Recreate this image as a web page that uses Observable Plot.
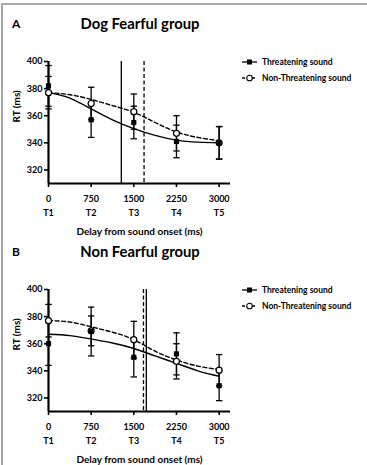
<!DOCTYPE html>
<html>
<head>
<meta charset="utf-8">
<script src="https://cdn.jsdelivr.net/npm/d3@7"></script>
<script src="https://cdn.jsdelivr.net/npm/@observablehq/plot@0.6"></script>
<style>
  body { margin: 0; background: #fff; font-family: Lato, "Open Sans", sans-serif; color: #000; }
  #page { position: relative; width: 367px; height: 465px; overflow: hidden; background: #fff; }
  #frame { position: absolute; left: 1px; top: 3px; width: 400px; height: 500px;
           border-left: 2px solid #a8a8a8; border-top: 2px solid #a8a8a8; }
  .letter { position: absolute; left: 12px; font-weight: bold; font-size: 12px; line-height: 12px; }
  .title { position: absolute; left: 0; width: 280px; text-align: center; font-weight: bold;
           font-size: 14.8px; line-height: 15px; }
  .plot { position: absolute; left: 0; }
  .legend { position: absolute; left: 242px; font-weight: bold; font-size: 8.5px; }
  .legend div { display: flex; align-items: center; height: 16px; white-space: nowrap; }
  .legend svg { margin-right: 5px; }
</style>
</head>
<body>
<div id="page">
  <div id="frame"></div>
</div>
<script>
// Shared axis values
const delays = [0, 750, 1500, 2250, 3000];
const timeLabels = ["T1", "T2", "T3", "T4", "T5"];
const yTicks = [320, 340, 360, 380, 400];
const series = ["Threatening sound", "Non-Threatening sound"];
const xTitle = "Delay from sound onset (ms)";
const yTitle = "RT (ms)";

// Delays at which the fitted curves are listed
const fitDelays = [0, 375, 750, 1125, 1500, 1875, 2250, 2625, 3000];

// A — Dog Fearful group
const fearfulThreat = [382, 357, 355, 341, 340];
const fearfulThreatErr = [15, 13, 12, 12, 12];
const fearfulNonThreat = [377, 369, 363, 347, 340];
const fearfulNonThreatErr = [12, 12, 13, 13, 12];
const fearfulFitThreat = [377, 373, 365, 357, 350.5, 345.5, 342, 340.5, 340];
const fearfulFitNonThreat = [377, 375.5, 372, 367.5, 362.5, 355, 348, 344, 341.5];
const fearfulMidpoints = [1280, 1680]; // threatening (solid), non-threatening (dashed)

// B — Non Fearful group
const nonFearfulThreat = [360, 369, 350, 352.5, 329];
const nonFearfulThreatErr = [16, 18, 14.5, 15.5, 11];
const nonFearfulNonThreat = [377, 369.5, 363, 347, 340.5];
const nonFearfulNonThreatErr = [12, 11, 13.5, 13, 11.5];
const nonFearfulFitThreat = [367, 366, 363.5, 360.5, 356.5, 351, 345.5, 340, 336];
const nonFearfulFitNonThreat = [377, 376, 372.5, 368.5, 363, 354.5, 348, 343.5, 341];
const nonFearfulMidpoints = [1720, 1670];

// Horizontal cap used for the error bars
const capSymbol = {
  draw(context, size) {
    const w = Math.sqrt(size / Math.PI);
    context.moveTo(-w, 0);
    context.lineTo(w, 0);
  }
};

function groupPlot(threat, threatErr, nonThreat, nonThreatErr, fitT, fitN, mids) {
  const pts = [];
  delays.forEach((d, i) => {
    pts.push({delay: d, rt: threat[i], err: threatErr[i], series: series[0]});
    pts.push({delay: d, rt: nonThreat[i], err: nonThreatErr[i], series: series[1]});
  });
  const caps = pts.flatMap(p => [{delay: p.delay, rt: p.rt + p.err}, {delay: p.delay, rt: p.rt - p.err}]);
  const fitSolid = fitDelays.map((d, i) => ({delay: d, rt: fitT[i]}));
  const fitDashed = fitDelays.map((d, i) => ({delay: d, rt: fitN[i]}));
  const threatPts = pts.filter(p => p.series === series[0]);
  const nonThreatPts = pts.filter(p => p.series === series[1]);

  return Plot.plot({
    width: 240,
    height: 197,
    marginLeft: 48,
    marginRight: 10,
    marginTop: 21,
    marginBottom: 54,
    style: "font-family: Lato, sans-serif; font-weight: bold; font-size: 9px; color: #000; background: transparent; overflow: visible;",
    x: {domain: [0, 3200]},
    y: {domain: [310, 400]},
    marks: [
      Plot.axisY({ticks: yTicks, tickSize: 4, tickPadding: 2, strokeWidth: 1.6, label: null}),
      // delay value with the time-point name on a second line
      Plot.axisX({ticks: delays, tickSize: 4, tickPadding: 4, strokeWidth: 1.6, lineHeight: 1.6,
                  tickFormat: d => `${d}\n${timeLabels[delays.indexOf(d)]}`, label: null}),
      Plot.text([xTitle], {frameAnchor: "bottom", lineAnchor: "top", dy: 44, fontSize: 10, fontWeight: "bold"}),
      Plot.text([yTitle], {frameAnchor: "left", rotate: -90, dx: -32, fontSize: 10, fontWeight: "bold"}),
      // error bars
      Plot.ruleX(pts, {x: "delay", y1: d => d.rt - d.err, y2: d => d.rt + d.err, strokeWidth: 1.3}),
      Plot.dot(caps, {x: "delay", y: "rt", symbol: capSymbol, r: 3.2, stroke: "#000", strokeWidth: 1.3}),
      // fitted curves
      Plot.line(fitSolid, {x: "delay", y: "rt", curve: "natural", strokeWidth: 1.4}),
      Plot.line(fitDashed, {x: "delay", y: "rt", curve: "natural", strokeWidth: 1.4, strokeDasharray: "4,2.5"}),
      // curve midpoints
      Plot.ruleX([mids[0]], {strokeWidth: 1.3}),
      Plot.ruleX([mids[1]], {strokeWidth: 1.3, strokeDasharray: "4,2.5"}),
      // axis lines
      Plot.ruleX([0], {strokeWidth: 2.2}),
      Plot.ruleY([310], {strokeWidth: 2.2}),
      // group means
      Plot.dot(nonThreatPts, {x: "delay", y: "rt", symbol: "circle", r: 3, fill: "#fff", stroke: "#000", strokeWidth: 1.2}),
      Plot.dot(threatPts, {x: "delay", y: "rt", symbol: "square", r: 2.9, fill: "#000"})
    ]
  });
}

function legend() {
  const el = document.createElement("div");
  el.className = "legend";
  const swatches = [
    `<svg width="15" height="8"><line x1="0" x2="15" y1="4" y2="4" stroke="#000" stroke-width="1.3"/><rect x="5" y="1.5" width="5" height="5" fill="#000"/></svg>`,
    `<svg width="15" height="8"><line x1="0" x2="15" y1="4" y2="4" stroke="#000" stroke-width="1.3" stroke-dasharray="3,2"/><circle cx="7.5" cy="4" r="2.8" fill="#fff" stroke="#000" stroke-width="1.1"/></svg>`
  ];
  series.forEach((s, i) => {
    const row = document.createElement("div");
    row.innerHTML = swatches[i] + `<span>${s}</span>`;
    el.appendChild(row);
  });
  return el;
}

function addPanel(letter, title, top, plot) {
  const page = document.getElementById("page");
  const l = document.createElement("div");
  l.className = "letter"; l.textContent = letter; l.style.top = (top - 22) + "px";
  const t = document.createElement("div");
  t.className = "title"; t.textContent = title; t.style.top = (top - 24) + "px";
  plot.classList.add("plot"); plot.style.top = top + "px";
  const lg = legend(); lg.style.top = (top + 14) + "px";
  page.append(l, t, plot, lg);
}

addPanel("A", "Dog Fearful group", 40,
  groupPlot(fearfulThreat, fearfulThreatErr, fearfulNonThreat, fearfulNonThreatErr,
            fearfulFitThreat, fearfulFitNonThreat, fearfulMidpoints));
addPanel("B", "Non Fearful group", 268,
  groupPlot(nonFearfulThreat, nonFearfulThreatErr, nonFearfulNonThreat, nonFearfulNonThreatErr,
            nonFearfulFitThreat, nonFearfulFitNonThreat, nonFearfulMidpoints));
</script>
</body>
</html>
